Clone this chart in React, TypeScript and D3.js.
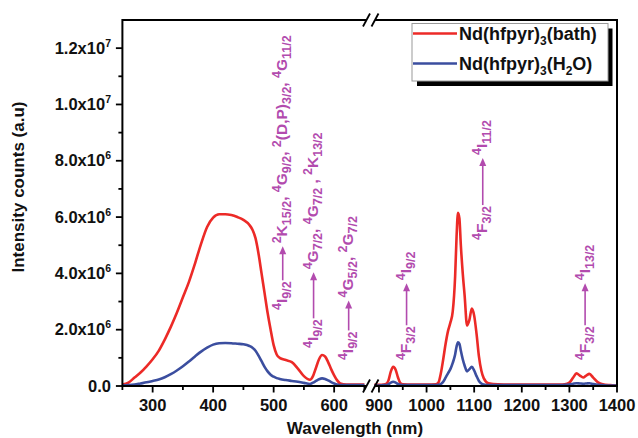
import React, { useEffect, useRef } from 'react';
import * as d3 from 'd3';

// ---------- data (intensity in units of 1e6 counts) ----------
const leftNm = [250, 260, 270, 280, 290, 300, 310, 320, 330, 340, 350, 360, 370, 380, 390, 400, 410, 420, 430, 440, 450, 460, 465, 470, 475, 480, 485, 490, 495, 500, 505, 510, 520, 530, 540, 550, 560, 565, 570, 575, 580, 585, 590, 595, 600, 605, 610, 620, 635, 650];
const bathLeft = [0.05, 0.12, 0.3, 0.48, 0.7, 0.95, 1.25, 1.65, 2.1, 2.6, 3.15, 3.7, 4.35, 5.05, 5.65, 5.98, 6.1, 6.1, 6.07, 6.0, 5.9, 5.72, 5.55, 5.25, 4.7, 4.0, 3.3, 2.6, 2.0, 1.45, 1.12, 1.0, 0.92, 0.85, 0.62, 0.35, 0.22, 0.35, 0.65, 0.95, 1.1, 1.05, 0.85, 0.6, 0.38, 0.2, 0.09, 0.05, 0.05, 0.05];
const waterLeft = [0.02, 0.03, 0.05, 0.09, 0.13, 0.18, 0.23, 0.31, 0.42, 0.55, 0.7, 0.87, 1.05, 1.22, 1.36, 1.47, 1.52, 1.53, 1.52, 1.5, 1.48, 1.42, 1.36, 1.25, 1.08, 0.88, 0.68, 0.52, 0.4, 0.33, 0.28, 0.25, 0.21, 0.18, 0.15, 0.11, 0.07, 0.12, 0.18, 0.24, 0.27, 0.25, 0.2, 0.14, 0.09, 0.05, 0.03, 0.03, 0.03, 0.03];

const rightNm = [890, 900, 910, 915, 920, 925, 930, 935, 940, 945, 950, 970, 1000, 1020, 1025, 1030, 1035, 1040, 1045, 1050, 1055, 1060, 1063, 1066, 1069, 1072, 1076, 1080, 1085, 1090, 1095, 1100, 1105, 1110, 1115, 1120, 1130, 1150, 1200, 1250, 1280, 1290, 1300, 1308, 1315, 1322, 1329, 1336, 1342, 1350, 1360, 1370, 1385, 1400];
const bathRight = [0.04, 0.04, 0.05, 0.07, 0.2, 0.52, 0.68, 0.58, 0.3, 0.1, 0.06, 0.05, 0.05, 0.06, 0.12, 0.45, 0.95, 1.5, 1.95, 2.25, 2.65, 3.9, 5.3, 6.15, 5.95, 5.0, 4.0, 3.2, 2.15, 2.35, 2.75, 2.5, 1.85, 1.05, 0.55, 0.28, 0.1, 0.06, 0.05, 0.05, 0.05, 0.06, 0.12, 0.3, 0.45, 0.37, 0.3, 0.38, 0.43, 0.3, 0.13, 0.06, 0.03, 0.02];
const waterRight = [0.02, 0.02, 0.03, 0.03, 0.06, 0.12, 0.15, 0.12, 0.07, 0.04, 0.03, 0.03, 0.03, 0.03, 0.04, 0.07, 0.15, 0.3, 0.45, 0.6, 0.82, 1.12, 1.4, 1.55, 1.5, 1.25, 0.95, 0.72, 0.52, 0.6, 0.68, 0.55, 0.35, 0.18, 0.09, 0.05, 0.03, 0.03, 0.03, 0.03, 0.03, 0.04, 0.05, 0.08, 0.1, 0.09, 0.08, 0.09, 0.1, 0.07, 0.04, 0.03, 0.02, 0.02];

const leftMajor = [300, 400, 500, 600];
const leftMinor = [250, 350, 450, 550, 650];
const rightMajor = [900, 1000, 1100, 1200, 1300, 1400];
const rightMinor = [950, 1050, 1150, 1250, 1350];
const yMajor = [0, 2, 4, 6, 8, 10, 12];
const yMinor = [1, 3, 5, 7, 9, 11];

const seriesNames = ['Nd(hfpyr){3}(bath)', 'Nd(hfpyr){3}(H{2}O)'];
const seriesColors = ['#ec2a27', '#3b4e9f'];

// annotations: {sup} superscript, [sub] subscript
const annNm = [515, 566, 624, 958, 1118, 1333];
const annVal = [2.7, 1.35, 0.92, 0.92, 5.19, 0.92];
const annArrow = [34, 46, 30, 42, 47, 42];
const annFrom = ['{4}I[9/2]', '{4}I[9/2]', '{4}I[9/2]', '{4}F[3/2]', '{4}F[3/2]', '{4}F[3/2]'];
const annTo = [
  '{2}K[15/2], {4}G[9/2], {2}(D,P)[3/2], {4}G[11/2]',
  '{4}G[7/2], {4}G[7/2] , {2}K[13/2]',
  '{4}G[5/2], {2}G[7/2]',
  '{4}I[9/2]',
  '{4}I[11/2]',
  '{4}I[13/2]',
];

const FONT = "'Liberation Sans', Arial, Helvetica, sans-serif";
const ANN = '#b24bae';

function rich(sel: any, markup: string, main: number, small: number, supShift: number, subShift: number) {
  const re = /\{([^}]*)\}|\[([^\]]*)\]|([^{[]+)/g;
  let m: RegExpExecArray | null;
  let cur = 0;
  while ((m = re.exec(markup))) {
    let target = 0;
    let size = main;
    let str = '';
    if (m[1] !== undefined) { target = -supShift; size = small; str = m[1]; }
    else if (m[2] !== undefined) { target = subShift; size = small; str = m[2]; }
    else { str = m[3]; }
    sel.append('tspan').attr('dy', target - cur).attr('font-size', size).text(str);
    cur = target;
  }
}

export default function App() {
  const ref = useRef<SVGSVGElement>(null);
  useEffect(() => {
    const svg = d3.select(ref.current);
    svg.selectAll('*').remove();

    const xL = d3.scaleLinear().domain([250, 650]).range([122.4, 364.4]);
    const xR = d3.scaleLinear().domain([890, 1400]).range([374.2, 617]);
    const y = d3.scaleLinear().domain([0, 13]).range([386, 20]);

    const X0 = 122.4, X1 = 617, Y0 = 386, Y1 = 20;
    const bL = 366.5, bR = 375;

    // curves
    const draw = (nm: number[], vals: number[], sc: any, color: string) => {
      const line = d3.line<number>().x((_, i) => sc(nm[i])).y(d => y(d)).curve(d3.curveMonotoneX);
      svg.append('path').attr('d', line(vals) as string).attr('fill', 'none')
        .attr('stroke', color).attr('stroke-width', 2.6).attr('stroke-linejoin', 'round');
    };
    draw(leftNm, bathLeft, xL, seriesColors[0]);
    draw(rightNm, bathRight, xR, seriesColors[0]);
    draw(leftNm, waterLeft, xL, seriesColors[1]);
    draw(rightNm, waterRight, xR, seriesColors[1]);

    // frame
    const g = svg.append('g').attr('stroke', '#000').attr('stroke-width', 2).attr('fill', 'none');
    g.append('line').attr('x1', X0).attr('x2', X0).attr('y1', Y1 - 1).attr('y2', Y0 + 1);
    g.append('line').attr('x1', X1).attr('x2', X1).attr('y1', Y1 - 1).attr('y2', Y0 + 1);
    [Y0, Y1].forEach(yy => {
      g.append('line').attr('x1', X0).attr('x2', bL).attr('y1', yy).attr('y2', yy);
      g.append('line').attr('x1', bR).attr('x2', X1).attr('y1', yy).attr('y2', yy);
      [bL, bR].forEach(cx => {
        g.append('line').attr('x1', cx - 3.5).attr('x2', cx + 3.5).attr('y1', yy + 6.5).attr('y2', yy - 6.5).attr('stroke-width', 1.8);
      });
    });

    // ticks
    const tg = svg.append('g').attr('stroke', '#000').attr('stroke-width', 1.8);
    leftMajor.forEach(v => tg.append('line').attr('x1', xL(v)).attr('x2', xL(v)).attr('y1', Y0).attr('y2', Y0 + 6.5));
    leftMinor.forEach(v => tg.append('line').attr('x1', xL(v)).attr('x2', xL(v)).attr('y1', Y0).attr('y2', Y0 + 4));
    rightMajor.forEach(v => tg.append('line').attr('x1', xR(v)).attr('x2', xR(v)).attr('y1', Y0).attr('y2', Y0 + 6.5));
    rightMinor.forEach(v => tg.append('line').attr('x1', xR(v)).attr('x2', xR(v)).attr('y1', Y0).attr('y2', Y0 + 4));
    yMajor.forEach(v => tg.append('line').attr('x1', X0 - 6.5).attr('x2', X0).attr('y1', y(v)).attr('y2', y(v)));
    yMinor.forEach(v => tg.append('line').attr('x1', X0 - 4).attr('x2', X0).attr('y1', y(v)).attr('y2', y(v)));

    const lab = svg.append('g').attr('font-family', FONT).attr('font-weight', 'bold').attr('fill', '#111');
    const xLab = (v: number, sc: any) => lab.append('text').attr('x', sc(v)).attr('y', 411)
      .attr('text-anchor', 'middle').attr('font-size', 16.5).text(String(v));
    leftMajor.forEach(v => xLab(v, xL));
    rightMajor.forEach(v => xLab(v, xR));

    yMajor.forEach(v => {
      const t = lab.append('text').attr('x', 111).attr('y', y(v) + 5.5).attr('text-anchor', 'end')
        .attr('font-size', 16.5).style('white-space', 'pre');
      if (v === 0) { t.text('0.0'); return; }
      const exp = v >= 10 ? 7 : 6;
      const mant = v >= 10 ? v / 10 : v;
      rich(t, `${mant.toFixed(1)}x10{${exp}}`, 16.5, 10.5, 7, 0);
    });

    lab.append('text').attr('transform', 'translate(24,187) rotate(-90)').attr('text-anchor', 'middle')
      .attr('font-size', 17).text('Intensity counts (a.u)');
    lab.append('text').attr('x', 355).attr('y', 434).attr('text-anchor', 'middle')
      .attr('font-size', 17).text('Wavelength (nm)');

    // legend
    const lg = svg.append('g');
    lg.append('rect').attr('x', 417).attr('y', 28.5).attr('width', 195.5).attr('height', 57.5).attr('fill', '#000');
    lg.append('rect').attr('x', 412).attr('y', 23.5).attr('width', 196).attr('height', 57.5)
      .attr('fill', '#fff').attr('stroke', '#999').attr('stroke-width', 1);
    seriesNames.forEach((name, i) => {
      const yy = 33.5 + i * 30;
      lg.append('line').attr('x1', 413).attr('x2', 457).attr('y1', yy).attr('y2', yy)
        .attr('stroke', seriesColors[i]).attr('stroke-width', 2.6);
      const t = lg.append('text').attr('x', 459).attr('y', yy + 6.5).attr('font-family', FONT)
        .attr('font-weight', 'bold').attr('font-size', 18).attr('fill', '#111');
      rich(t, name.replace(/\{(\w)\}/g, '[$1]'), 18, 12, 0, 5);
    });

    // annotations
    const ag = svg.append('g').attr('font-family', FONT).attr('font-weight', 'bold').attr('fill', ANN);
    annNm.forEach((nm, i) => {
      const sc = nm < 800 ? xL : xR;
      const gg = ag.append('g').attr('transform', `translate(${sc(nm)},${y(annVal[i])}) rotate(-90)`);
      const t1 = gg.append('text').attr('x', 0).attr('y', 4.5).style('white-space', 'pre');
      rich(t1, annFrom[i], 15.5, 12.5, 6, 4);
      const w1 = (t1.node() as SVGTextElement).getComputedTextLength();
      const a0 = w1 + 1, a1 = a0 + annArrow[i];
      gg.append('line').attr('x1', a0).attr('x2', a1 - 6).attr('y1', 0).attr('y2', 0)
        .attr('stroke', ANN).attr('stroke-width', 1.6);
      gg.append('path').attr('d', `M${a1},0 L${a1 - 8},-3.5 L${a1 - 8},3.5 Z`).attr('fill', ANN);
      const t2 = gg.append('text').attr('x', a1 + 3).attr('y', 4.5).style('white-space', 'pre');
      rich(t2, annTo[i], 15.5, 12.5, 6, 4);
    });
  }, []);
  return (
    <svg ref={ref} width={638} height={438}
      style={{ position: 'absolute', left: 0, top: 0, background: '#fff' }} />
  );
}
